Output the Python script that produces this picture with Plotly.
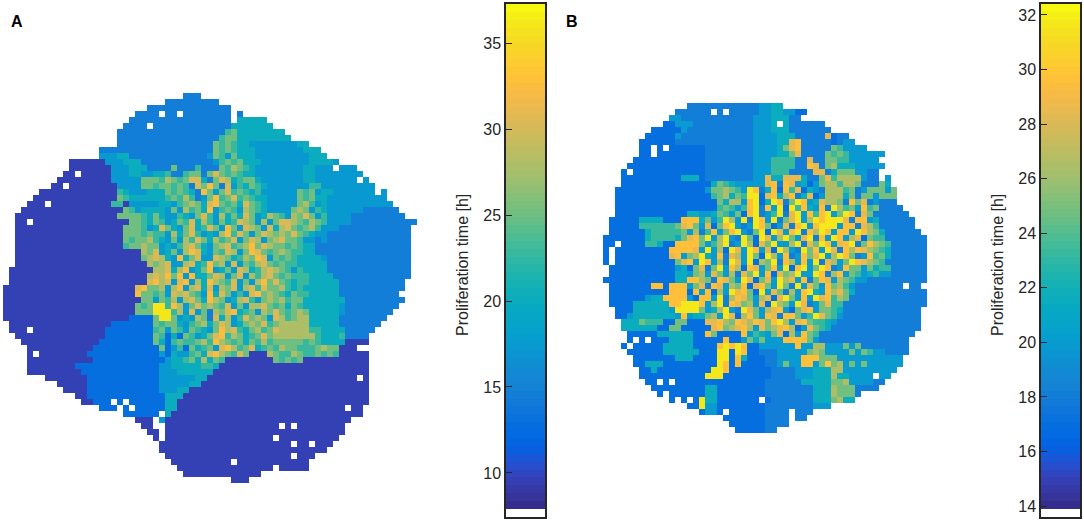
"""
Proliferation time maps of two colonies with their colour bars
"""
import re
import numpy as np
import plotly.graph_objects as go

W, H = 1084, 521
CELL = 6

# parula, 64 steps
PARULA = [
    (0.2081, 0.1663, 0.5292), (0.2116, 0.1898, 0.5777), (0.2123, 0.2138, 0.6270), (0.2081, 0.2386, 0.6771),
    (0.1959, 0.2645, 0.7279), (0.1707, 0.2919, 0.7792), (0.1253, 0.3242, 0.8303), (0.0591, 0.3598, 0.8683),
    (0.0117, 0.3875, 0.8820), (0.0060, 0.4086, 0.8828), (0.0165, 0.4266, 0.8786), (0.0329, 0.4430, 0.8720),
    (0.0498, 0.4586, 0.8641), (0.0629, 0.4737, 0.8554), (0.0723, 0.4887, 0.8467), (0.0779, 0.5040, 0.8384),
    (0.0793, 0.5200, 0.8312), (0.0749, 0.5375, 0.8263), (0.0641, 0.5570, 0.8240), (0.0488, 0.5772, 0.8228),
    (0.0343, 0.5966, 0.8199), (0.0265, 0.6137, 0.8135), (0.0239, 0.6287, 0.8038), (0.0231, 0.6418, 0.7913),
    (0.0228, 0.6535, 0.7768), (0.0267, 0.6642, 0.7607), (0.0384, 0.6743, 0.7436), (0.0590, 0.6838, 0.7254),
    (0.0843, 0.6928, 0.7062), (0.1133, 0.7015, 0.6859), (0.1453, 0.7098, 0.6646), (0.1801, 0.7177, 0.6424),
    (0.2178, 0.7250, 0.6193), (0.2586, 0.7317, 0.5954), (0.3022, 0.7376, 0.5712), (0.3482, 0.7424, 0.5473),
    (0.3953, 0.7459, 0.5244), (0.4420, 0.7481, 0.5033), (0.4871, 0.7491, 0.4840), (0.5300, 0.7491, 0.4661),
    (0.5709, 0.7485, 0.4494), (0.6099, 0.7473, 0.4337), (0.6473, 0.7456, 0.4188), (0.6834, 0.7435, 0.4044),
    (0.7184, 0.7411, 0.3905), (0.7525, 0.7384, 0.3768), (0.7858, 0.7356, 0.3633), (0.8185, 0.7327, 0.3498),
    (0.8507, 0.7299, 0.3360), (0.8824, 0.7274, 0.3217), (0.9139, 0.7258, 0.3063), (0.9450, 0.7261, 0.2886),
    (0.9739, 0.7314, 0.2666), (0.9938, 0.7455, 0.2403), (0.9990, 0.7653, 0.2164), (0.9955, 0.7861, 0.1967),
    (0.9880, 0.8066, 0.1794), (0.9789, 0.8271, 0.1633), (0.9697, 0.8481, 0.1475), (0.9626, 0.8705, 0.1309),
    (0.9589, 0.8949, 0.1132), (0.9598, 0.9218, 0.0948), (0.9661, 0.9514, 0.0755), (0.9763, 0.9831, 0.0538),
]

# hours, one letter per colour class
HOURS_A = dict(a=9.6, b=12.8, c=14.6, d=17.4, e=20.1, f=22.8, g=25.1, h=27.9, i=30.3, j=32.4, k=36.0)
HOURS_B = dict(a=14.9, b=17.0, c=18.1, d=19.9, e=21.6, f=23.3, g=24.8, h=26.5, i=28.5, j=29.6, k=31.7)

# rows of the maps, run-length written: "12c" = 12 cells of class c, "." = no cell
ROWS_A = [
    "30.3c", "27.9c", "24.14c", "22.4c.2c.8c.c", "21.17c.5e", "20.4c.13c7e", "19.18cfg8e", "19.17cfgg9e",
    "19.16cgfgf2e8d2e", "16.19cgfgf3e8d3e", "16.3d2e13cdgfdg3e9d3e", "11.6a3d3e12cdfgfg3e8d4ed",
    "11.7a3d3e4cg3cf3cgfhgfe8d2e3d.3d", "10.2a.5a3d2eddeef2cfggcgigfgfee8d2e8d",
    "9.9a5dgggfhgfgiiecgihefgge7d2e7d.d", "8.2a.8a4dggfggfgfcigjgcidfegfe6ddff9d",
    "6.13afed2d3egfgfecjgdgifgfef6dgfgd2e7d.d", "5.14agf6efgfhfcdgjfgifgfee5dgfg2e10d",
    "4.3a.10affa5deedfghgeijgfgeigfed4dghfde11d", "3.17agfde3edgdhfgejdfgfdhgfed3dghgdfe6d6c",
    "2.17aggggfegeddfedgifdhegeigdehgfdhgigdf4d9c", "2.2a.16aggfegfdegfiehfdgefihgdhdgiihgfhgfd3d11c",
    "2.18a3gfdeigedgiefigdjgdihgdiehigfghfd2d12c", "2.18a3gfgffdhegifdedhjfigdgihghgigfe2d14c",
    "2.18agfgghfedgdhfigehfgidgihdghiggfddcd14c", "2.18afgghggdedfhigedghifghjgihggfgf2e16c",
    "2.21ahgidegdhjiedgfihdgjigfghgffee16c", "2.21aghihedjegiddihgefhgjidgfgfee2ed14c",
    "2.22ahghiddhiefjghdidgfhigfgffe4e14c", "1.24ahhiehjdegjdegdihefhihgfdfe3e14c",
    "1.23ahihjgjdjeegihdgidhfhigfgfff4e13c", "1.23aijhidijdhejhgfidgdhjgigfeff5e11c",
    "22aijgghdhjdhieidhgidhifigghfef6e11c", "22ajggfgdihigfdjeigdfdijghgfegffe4e10c",
    "23aggdgfhdhigejhgdehifdghghfgge6e10c", "22agfgkkfjhdgighgfidgdhhigfgegfe5ed9c",
    "22agggkkkfhdidgchgijefgdhgigfghg5ed8c", "21a4bgkkgdedhgciehdfighgdihfghh5e8c",
    "1.17a7bgfggedfghegihdeghgifghhh2he4e7c", "1.3a.12a8bfgdgfdgfedgjhifeghfgi5h2f4e5c",
    "2.15a8bgfbebgfdegijfhgefgigh5hhf3ef4c", "3.13a9bgebfgffghfjhgfgegfhfgggggfgf4e4a",
    "4.11a11bgbdfbgefgdijhfgiefgfhggfffghgg3a", "4.a.8a12bdbeddfgeijhgfig3ahgffhgffgfgf5a",
    "4.11a12bdeefgehegf8agfgfg11a", "4.8a14b2d2e3effe25a", "4.9a13b3d3e3e26a", "7.7a12b3d3d2e25a.a",
    "9.5a12b3d2d2e28a", "10.4a12b3d2e30a", "12.2a13b3e31a", "13.2a3b.b.6b2e32a", "16.3b.b.5b2e28a.2a",
    "20.6b.e32a", "22.3a.d31a", "23.2a2.19a.a.8a", "24.2a.30a", "25.a.18a.10a", "26.22a.2a.3a", "26.28a",
    "27.21a.3a", "28.10a.12a", "29.16a.5a", "30.13a", "38.3a",
]

ROWS_B = [
    "14.12c2d2e", "12.6c.c.5c2d2e2d2b", "11.2d12c3d3e2c", "10.2b3d10c3de.e6c", "8.5bd11c3d3e7c",
    "7.5bd12c4d3e5cib2c", "6.6b2c11c4d2eij5cbc2d", "6.2b.b.6b8c4degijc4cgf4d", "6.2b.8b8c4d2egi4cgfgf6d",
    "5.12b8c3d4f2ci2cggff5d", "4.13b8c3d4f2cjicgh3e5d", "3.b.12b8c3d3f4c2ice3g2d2c.", "3.10b3eb8c2di2e3ie2cgifh3hd2c.d",
    "3.15begfe3d2dijcjidebdghhfhhg3cge", "2.15bdgghgfdkjcejbjfibedc3hfgcd3gdg", "2.16bfghegfkkbijehjceibd3hegc2gdg2g",
    "2.17bgehhdjkbekjcgkjdei2hgcjgicd3c", "2.17bfgfdfjkcjdkbkfjedjckhfgdjfg4c", "2.12b2e2degfdgbjkcdfkcikdjfjkdgkjcig6c",
    "1.5b4e3b3jegdfkhdkckjdkcgikdhkjkkkicjjde6c", "1.5b6fgijgdibgjkdcdkjgbdicjkdjkkkdjjcihf6c",
    "1.6be5fgdhcfjdgjkdcgkbkidjkcjhkjdjjdkjhge6c", "7be4fegijgkdhkdckgbkidhkgdikcjdkjdhibgff7c",
    "2b.4b2fe2b4jgdfhkcdkhbigkddhkcigkjdijkcgjhgf6c", "b.9b4jidkdhbkidkjdibkhdckgjdkicjhjihgfe6c",
    "b.9bijdghkedjcihdkgbkhdjcdjgikdhkjgcdjfge6c", "b.10bgijdkjdhckidkbhgkcjhdjdkcihdgkjihgf7c",
    "1.11bdebgicgkdjhbjidgjdkbjkdgkjcdjggdge2f6c", "1.11b2edghdigdhcigkdjbighkddkjchjdgfdef2d6c",
    "12b2ejjhgcjigdkibgidkhidjcgjidhgfdd10c", "1.7b2jb3jdgicjidhgjbijgdkgckdigdjghfd8c.2c",
    "1.10b3jbjdjbhdkijgbkdigchdjkedjhige12c", "1.6bd2e4jdb2jdkchjigdhibikgdjdkijfhgc12c",
    "1.4b6ejj3kjdhkcjighdibkhgdkicdgiff14c", "2.3b6ed4kgdehkdckigdhijdbgijdggfe13c",
    "2.2bd7edjdeeghdkibhjgdjicjjgdfkigfd13c", "3.3egf2f2b2g3b2ijhgjihjigjkhdijgffed14c",
    "3.6e2bggb2b2bijghijhdighijhbdigfe15c", "4.5b6e2bjg2b2bjdfedgibhdjgf16c", "4.b.b.3b4e5bj2bdgeg3d3jjgd15c",
    "3.b.5b5e4bjkjkj2b3d3dj2d2h3dgdg8c", "4.6b6e3b2kbkj2b3c5dghgd3dgdgf2d4c", "5.7b3e4bkkbje3b2c4d2jj3g4dd6d",
    "5.2b3e5b4bkjbj4b2cdg2d2jdgjghdgdg6d", "6.2be9b2kj7b4c3d3e2h4d5d", "6.11b3k8b4c3d3eh2e4d.2d",
    "7.2b.b.15bc5c2e3e2gh3dd2c", "8.9b2e8b6c2c3ehg2g3cc", "9.b.6b2e8b6c2c3ehgggc",
    "11.b.b.bk2e7b.b5c2c3egh2e", "14.2bk2d8b6c2c3d", "16.b2db.6b4c.c2c", "20.7b4c.2c", "21.6b4c", "22.5b2c",
]

TICKS_A = [10, 15, 20, 25, 30, 35]
TICKS_B = [14, 16, 18, 20, 22, 24, 26, 28, 30, 32]
BAR_TITLE = "Proliferation time [h]"


def decode(rows, hours):
    # turn the run-length rows into a z grid, short rows filled with gaps
    grid = []
    for row in rows:
        cells = []
        for count, letter in re.findall(r"(\d*)([a-k.])", row):
            cells += [hours.get(letter)] * int(count or 1)
        grid.append(cells)
    width = max(len(r) for r in grid)
    return [r + [None] * (width - len(r)) for r in grid]


def px_x(left, right):
    return [left / W, right / W]


def px_y(top, bottom):
    return [1 - bottom / H, 1 - top / H]


colorscale = [
    [i / 63, f"rgb({round(r * 255)},{round(g * 255)},{round(b * 255)})"]
    for i, (r, g, b) in enumerate(PARULA)
]

fig = go.Figure()


def add_map(grid, left, top, ax, zmin, zmax):
    rows, cols = len(grid), len(grid[0])
    fig.add_trace(go.Heatmap(
        z=grid, colorscale=colorscale, zmin=zmin, zmax=zmax, showscale=False,
        xaxis=f"x{ax}", yaxis=f"y{ax}",
    ))
    fig.update_layout({
        f"xaxis{ax}": dict(domain=px_x(left, left + cols * CELL), range=[-0.5, cols - 0.5], visible=False),
        f"yaxis{ax}": dict(domain=px_y(top, top + rows * CELL), range=[rows - 0.5, -0.5], visible=False),
    })


def add_bar(left, right, ax, ticks, zmin, zmax, axis_min, axis_max):
    step = (zmax - zmin) / 64
    levels = np.array([zmin + (i + 0.5) * step for i in range(64)])
    fig.add_trace(go.Heatmap(
        z=levels.reshape(-1, 1).tolist(), y=levels.tolist(), x=[0],
        colorscale=colorscale, zmin=zmin, zmax=zmax, showscale=False,
        xaxis=f"x{ax}", yaxis=f"y{ax}", hoverinfo="skip",
    ))
    frame = dict(showline=True, linecolor="#262626", linewidth=1.5, mirror=True, showgrid=False, zeroline=False)
    fig.update_layout({
        f"xaxis{ax}": dict(
            domain=px_x(left, right), range=[-0.5, 0.5], showticklabels=False, ticks="",
            anchor=f"y{ax}", **frame,
        ),
        f"yaxis{ax}": dict(
            domain=px_y(4, 517), range=[axis_min, axis_max], tickvals=ticks, ticks="inside",
            ticklen=6, tickcolor="#262626", tickwidth=1.2, anchor=f"x{ax}", side="left",
            tickfont=dict(family="Liberation Sans", size=16, color="#262626"), **frame,
        ),
    })


add_map(decode(ROWS_A, HOURS_A), 3, 93, "", 7.91, 37.27)
add_map(decode(ROWS_B, HOURS_B), 603, 103, "2", 13.89, 32.4)
add_bar(506, 545, "3", TICKS_A, 7.91, 37.27, 7.44, 37.27)
add_bar(1041, 1080, "4", TICKS_B, 13.89, 32.4, 13.6, 32.4)

for text, x in [("A", 9), ("B", 564)]:
    fig.add_annotation(
        text=f"<b>{text}</b>", x=x / W, y=1 - 22 / H, xref="paper", yref="paper",
        xanchor="left", yanchor="middle", showarrow=False,
        font=dict(family="Liberation Sans", size=16, color="black"),
    )
for x in [462, 997]:
    fig.add_annotation(
        text=BAR_TITLE, x=x / W, y=1 - 265 / H, xref="paper", yref="paper",
        textangle=-90, xanchor="center", yanchor="middle", showarrow=False,
        font=dict(family="Liberation Sans", size=16, color="#262626"),
    )

fig.update_layout(
    width=W, height=H, margin=dict(l=0, r=0, t=0, b=0),
    paper_bgcolor="white", plot_bgcolor="white", showlegend=False,
)

fig.write_html("out.html", config=dict(displayModeBar=False), post_script="document.body.style.margin='0';")
